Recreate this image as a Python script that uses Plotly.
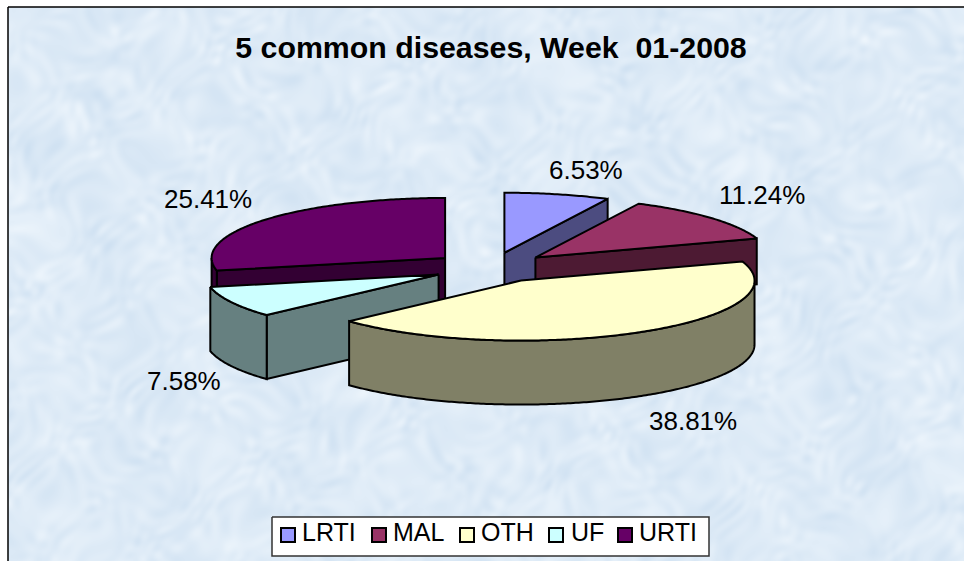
import base64, struct, zlib
import numpy as np
import plotly.graph_objects as go

# ---- data ----
categories = ["LRTI", "MAL", "OTH", "UF", "URTI"]
percent_values = [6.53, 11.24, 38.81, 7.58, 25.41]
percent_labels = ["6.53%", "11.24%", "38.81%", "7.58%", "25.41%"]

# ---- styles ----
top_colors = ["#9999FF", "#993366", "#FFFFCC", "#CCFFFF", "#660066"]
side_colors = ["#4C4C80", "#4D1A33", "#808066", "#668080", "#330033"]
draw_order = [0, 1, 4, 3, 2]
label_xy = [(586, 170), (762, 195), (693, 421), (184, 381), (208, 199)]
legend_swatch_x = [288, 379, 467, 556, 625]
legend_text_x = [302, 393, 481, 571, 639]
LEGEND_Y = 535
legend_box_x = [272, 709, 709, 272]
legend_box_y = [517, 517, 556, 556]
FONT = "Liberation Sans, Arial, sans-serif"

# ---- pie geometry (axes are in page pixels) ----
CX, CY = 491.0, 267.5
RX, RY = 233.5, 60.0
DEPTH = 64.0
EXPLODE = 59.0
W, H = 964, 561
# MAL's cut face disappears behind OTH, so it need not reach full depth
cut_depth = {1: 46.0}


def rim(ax, ay, deg):
    t = np.radians(deg)
    return ax + RX * np.sin(t), ay - RY * np.cos(t)


def arc(ax, ay, a, b):
    n = max(2, int(abs(b - a) * 1.5))
    return rim(ax, ay, np.linspace(a, b, n))


def face(fig, xs, ys, color, line_color="black", line_width=2):
    xs = list(xs) + [xs[0]]
    ys = list(ys) + [ys[0]]
    fig.add_trace(go.Scatter(
        x=xs, y=ys, mode="lines", fill="toself", fillcolor=color,
        line=dict(color=line_color, width=line_width, simplify=False),
        showlegend=False, hoverinfo="skip"))


def texture_png(w, h):
    """Soft mottled pale-blue paper, built from many layered sine waves."""
    yy, xx = np.mgrid[0:h, 0:w].astype(float)
    v = np.zeros((h, w))
    warp_a = 9 * np.sin(0.023 * xx + 0.041 * yy) + 6 * np.sin(0.067 * xx - 0.053 * yy + 1.0)
    warp_b = 9 * np.cos(0.037 * xx - 0.019 * yy) + 6 * np.cos(0.059 * xx + 0.071 * yy + 2.0)
    for k in range(1, 41):
        ang = k * 2.39996
        freq = 0.03 + 0.42 * ((k * 0.61803) % 1.0)
        ph = k * 1.7
        v += np.sin(freq * (np.cos(ang) * (xx + warp_a) + np.sin(ang) * (yy + warp_b)) + ph) / (1 + 3 * freq)
    v /= np.abs(v).max()
    r = np.clip(222 + 15 * v, 0, 255)
    g = np.clip(235 + 10 * v, 0, 255)
    b = np.clip(247 + 5 * v, 0, 255)
    rgb = np.dstack([r, g, b]).astype(np.uint8)
    raw = b"".join(b"\x00" + rgb[i].tobytes() for i in range(h))

    def chunk(tag, data):
        return (struct.pack(">I", len(data)) + tag + data +
                struct.pack(">I", zlib.crc32(tag + data) & 0xFFFFFFFF))
    png = (b"\x89PNG\r\n\x1a\n" +
           chunk(b"IHDR", struct.pack(">IIBBBBB", w, h, 8, 2, 0, 0, 0)) +
           chunk(b"IDAT", zlib.compress(raw, 9)) + chunk(b"IEND", b""))
    return "data:image/png;base64," + base64.b64encode(png).decode()


fig = go.Figure()

total = sum(percent_values)
edges = np.concatenate([[0.0], np.cumsum(percent_values) / total * 360.0])

for i in draw_order:
    s, e = edges[i], edges[i + 1]
    mid = np.radians((s + e) / 2)
    ax = CX + EXPLODE * np.sin(mid)
    ay = CY - EXPLODE * np.cos(mid) * RY / RX
    side, top = side_colors[i], top_colors[i]
    d_cut = cut_depth.get(i, DEPTH)

    # cut faces that look towards the viewer
    for deg, visible in ((s, np.sin(np.radians(s)) < -1e-6),
                         (e, np.sin(np.radians(e)) > 1e-6)):
        if visible:
            tx, ty = rim(ax, ay, deg)
            face(fig, [ax, tx, tx, ax], [ay, ty, ty + d_cut, ay + d_cut], side)

    # curved outer wall, front half only
    a, b = max(s, 90.0), min(e, 270.0)
    if b > a:
        wx, wy = arc(ax, ay, a, b)
        face(fig, np.r_[wx, wx[::-1]], np.r_[wy, wy[::-1] + DEPTH], side)

    # top surface
    tx, ty = arc(ax, ay, s, e)
    face(fig, np.r_[ax, tx], np.r_[ay, ty], top)

# legend, drawn compactly like the original's tight key
face(fig, legend_box_x, legend_box_y, "white", line_color="#333333", line_width=1.5)
fig.add_trace(go.Scatter(
    x=legend_swatch_x, y=[LEGEND_Y] * len(categories), mode="markers",
    marker=dict(symbol="square", size=14, color=top_colors,
                line=dict(color="black", width=2)),
    showlegend=False, hoverinfo="skip"))
fig.add_trace(go.Scatter(
    x=legend_text_x, y=[LEGEND_Y] * len(categories), mode="text",
    text=categories, textposition="middle right",
    textfont=dict(family=FONT, size=25, color="black"),
    showlegend=False, hoverinfo="skip"))

for text, (lx, ly) in zip(percent_labels, label_xy):
    fig.add_annotation(x=lx, y=ly, text=text, showarrow=False,
                       font=dict(family=FONT, size=26, color="black"))

fig.update_layout(
    width=W, height=H,
    autosize=False,
    margin=dict(l=0, r=0, t=0, b=0),
    paper_bgcolor="white", plot_bgcolor="rgba(0,0,0,0)",
    title=dict(text="<b>5 common diseases, Week  01-2008</b>",
               x=491 / W, xanchor="center", y=1 - 47 / H, yanchor="middle",
               font=dict(family=FONT, size=30.3, color="black")),
    xaxis=dict(range=[0, W], visible=False, fixedrange=True),
    yaxis=dict(range=[H, 0], visible=False, fixedrange=True),
    showlegend=False,
    images=[dict(source=texture_png(W - 8, H - 7), xref="x", yref="y",
                 x=8, y=7, sizex=W - 8, sizey=H - 7, sizing="stretch",
                 xanchor="left", yanchor="top", layer="below")],
    shapes=[dict(type="line", x0=8, x1=8, y0=7, y1=H, line=dict(color="black", width=1.5)),
            dict(type="line", x0=8, x1=W, y0=7, y1=7, line=dict(color="black", width=1.5))],
)

fig.write_html("out.html", config={"displayModeBar": False},
               post_script="document.body.style.margin='0';document.documentElement.style.overflow='hidden';")
